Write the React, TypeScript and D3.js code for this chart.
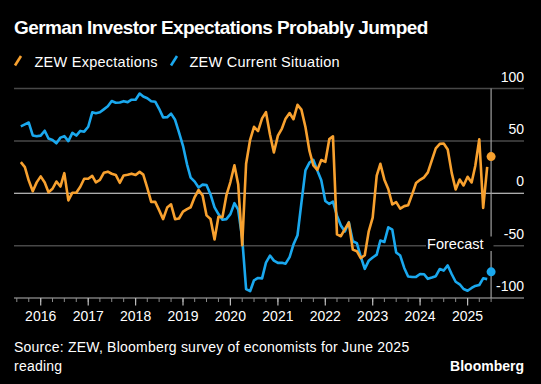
import React from "react";
import * as d3 from "d3";

const TITLE = "German Investor Expectations Probably Jumped";
const SERIES_NAMES = ["ZEW Expectations", "ZEW Current Situation"];
const START_MONTH = [2015, 7]; // first monthly reading (Jul 2015)
const Y_TICKS = [100, 50, 0, -50, -100];
const YEAR_LABELS = ["2016", "2017", "2018", "2019", "2020", "2021", "2022", "2023", "2024", "2025"];

const expectations = [
  29.7, 25.0, 12.1, 1.9, 10.4, 16.1,
  10.2, 1.0, 4.3, 11.2, 6.4, 19.2, -6.8, 0.5, 0.5, 6.2, 13.8, 13.8,
  16.6, 10.4, 12.8, 19.5, 20.6, 18.6, 17.5, 10.0, 17.0, 17.6, 18.7, 17.4,
  20.4, 17.8, 5.1, -8.2, -8.2, -16.1, -24.7, -13.7, -10.6, -24.7, -24.1, -17.5,
  -15.1, -13.4, -3.6, 3.1, -2.1, -21.1, -24.5, -44.1, -22.5, -22.8, -2.1, 10.7,
  26.7, 8.7, -49.5, 28.2, 51.0, 63.4, 59.3, 71.5, 77.4, 56.1, 39.0, 55.0,
  61.8, 71.2, 76.6, 70.7, 84.4, 79.8, 63.3, 40.4, 26.5, 22.3, 31.7, 29.9,
  51.7, 54.3, -39.3, -41.0, -34.3, -28.0, -53.8, -55.3, -61.9, -59.2, -36.7, -23.3,
  16.9, 28.1, 13.0, 4.1, -10.7, -8.5, -14.7, -12.3, -11.4, -1.1, 9.8, 12.8,
  15.2, 19.9, 31.7, 42.9, 47.1, 47.5, 41.8, 19.2, 3.6, 13.1, 7.4, 15.7,
  10.3, 26.0, 51.6, -14.0, 25.2,
];

const currentSituation = [
  63.9, 65.7, 67.5, 55.2, 54.4, 55.0,
  59.7, 52.3, 50.8, 47.7, 53.1, 54.5, 49.8, 57.6, 55.1, 59.5, 58.8, 63.5,
  77.3, 76.4, 77.3, 80.1, 83.0, 88.0, 86.4, 86.7, 87.9, 87.0, 89.3, 89.3,
  95.2, 92.3, 90.7, 87.9, 87.4, 80.6, 72.4, 72.6, 76.0, 70.1, 58.2, 45.3,
  27.6, 15.0, 11.1, 5.5, 8.2, 7.8, -1.1, -13.5, -19.9, -25.3, -24.7, -19.9,
  -9.5, -15.7, -43.1, -91.5, -93.5, -83.1, -80.9, -81.3, -66.2, -59.5, -64.3, -66.5,
  -66.4, -67.2, -61.0, -48.8, -40.1, -9.1, 21.9, 29.3, 31.9, 21.6, 12.5, -7.4,
  -10.2, -8.1, -21.4, -30.8, -36.5, -27.6, -45.8, -47.6, -60.5, -72.2, -64.5, -61.4,
  -58.6, -45.1, -46.5, -32.5, -34.8, -56.5, -59.5, -71.3, -79.4, -79.9, -79.8, -77.1,
  -77.3, -81.7, -80.5, -79.2, -72.3, -73.8, -68.9, -77.3, -84.5, -86.9, -91.4, -93.1,
  -90.4, -88.5, -87.6, -81.2, -82.0,
];

const FORECAST = [35.0, -75.0]; // June 2025 survey
const FORECAST_LABEL = "Forecast";
const SOURCE_LINES = ["Source: ZEW, Bloomberg survey of economists for June 2025", "reading"];

const ORANGE = "#f8a12f";
const BLUE = "#1aa8ee";
const FONT = "'Liberation Sans', Arial, sans-serif";

export default function App() {
  const W = 541, H = 384;
  const left = 14, right = 524;
  const x = d3.scaleTime().domain([new Date(2016, 0, 1), new Date(2025, 0, 1)]).range([40.7, 467.6]);
  const y = d3.scaleLinear().domain([-100, 100]).range([298, 88.5]);

  // monthly readings plotted at month end (start of next month)
  const first = new Date(START_MONTH[0], START_MONTH[1], 1);
  const dates = expectations.map((_, i) => d3.timeMonth.offset(first, i));
  const fDate = d3.timeMonth.offset(first, expectations.length);

  const line = d3.line<number>().x((_, i) => x(dates[i])).y((v) => y(v));

  const quarters = d3.timeMonth.every(3)!.range(new Date(2015, 6, 1), new Date(2025, 6, 2));
  const years = YEAR_LABELS.map((s) => new Date(+s, 0, 1));
  const fx = x(fDate);

  return (
    <svg width={W} height={H} style={{ position: "absolute", left: 0, top: 0, background: "#000" }} fontFamily={FONT}>
      <rect x={0} y={0} width={W} height={H} fill="#000" />
      <text x={14} y={33.5} fill="#fff" fontSize={19} fontWeight="bold" letterSpacing={-0.58}>{TITLE}</text>

      {/* legend */}
      <line x1={15} y1={65.5} x2={21} y2={56} stroke={ORANGE} strokeWidth={2.6} />
      <text x={34.5} y={66.5} fill="#fff" fontSize={14.5} letterSpacing={0.25}>{SERIES_NAMES[0]}</text>
      <line x1={171} y1={65.5} x2={177} y2={56} stroke={BLUE} strokeWidth={2.6} />
      <text x={189.5} y={66.5} fill="#fff" fontSize={14.5} letterSpacing={0.25}>{SERIES_NAMES[1]}</text>

      {/* grid */}
      {Y_TICKS.map((t) => (
        <g key={t}>
          <line x1={left} x2={right} y1={y(t)} y2={y(t)} stroke={t === 0 ? "#e6e6e6" : t === -100 ? "#7a7a7a" : "#484848"} strokeWidth={t === 0 ? 1.2 : 1.5} />
          <text x={right} y={y(t) - 7} fill="#fff" fontSize={14} textAnchor="end">{t}</text>
        </g>
      ))}

      {/* x ticks */}
      {quarters.map((d, i) => (
        <line key={i} x1={x(d)} x2={x(d)} y1={298} y2={302} stroke="#8a8a8a" strokeWidth={1} />
      ))}
      {years.map((d, i) => (
        <g key={i}>
          <line x1={x(d)} x2={x(d)} y1={298} y2={305.5} stroke="#bdbdbd" strokeWidth={1.2} />
          <text x={x(d)} y={321} fill="#fff" fontSize={14} textAnchor="middle">{YEAR_LABELS[i]}</text>
        </g>
      ))}

      {/* forecast marker line */}
      <line x1={fx} x2={fx} y1={88.5} y2={298} stroke="#a0a0a0" strokeWidth={1.2} />

      {/* series */}
      <path d={line(currentSituation) || ""} fill="none" stroke={BLUE} strokeWidth={2.6} strokeLinejoin="round" />
      <path d={line(expectations) || ""} fill="none" stroke={ORANGE} strokeWidth={2.6} strokeLinejoin="round" />
      <circle cx={fx} cy={y(FORECAST[0])} r={4.5} fill={ORANGE} />
      <circle cx={fx} cy={y(FORECAST[1])} r={4.5} fill={BLUE} />

      {/* forecast label */}
      <rect x={426} y={236.5} width={67.5} height={14.5} fill="#000" />
      <text x={483.5} y={249} fill="#fff" fontSize={14.5} textAnchor="end">{FORECAST_LABEL}</text>

      {/* footer */}
      <text x={14} y={352} fill="#fff" fontSize={14} letterSpacing={0.22}>{SOURCE_LINES[0]}</text>
      <text x={14} y={371} fill="#fff" fontSize={14} letterSpacing={0.22}>{SOURCE_LINES[1]}</text>
      <text x={524} y={371} fill="#fff" fontSize={14} fontWeight="bold" textAnchor="end">Bloomberg</text>
    </svg>
  );
}
